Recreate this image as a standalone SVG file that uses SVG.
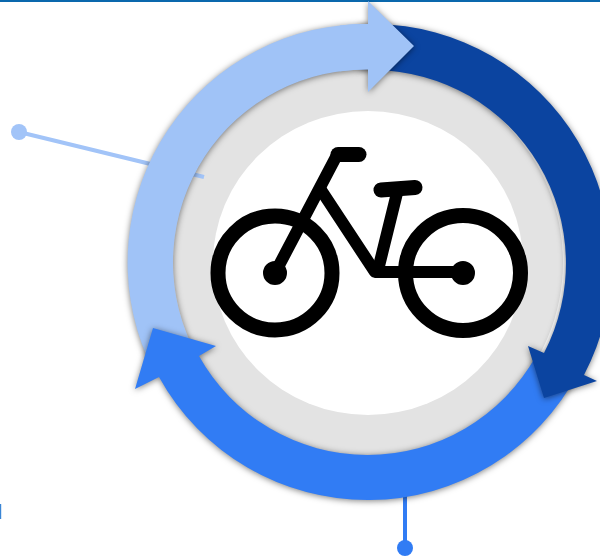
<svg xmlns="http://www.w3.org/2000/svg" width="600" height="560" viewBox="0 0 600 560">
<defs>
<filter id="sh" x="-15%" y="-15%" width="130%" height="130%" color-interpolation-filters="sRGB"><feDropShadow dx="0" dy="1" stdDeviation="3" flood-color="#000" flood-opacity=".5"/></filter>
<filter id="soft" x="-5%" y="-5%" width="110%" height="110%" color-interpolation-filters="sRGB"><feGaussianBlur stdDeviation=".7"/></filter>
</defs>
<style>
.bike{fill:none;stroke:#000;stroke-width:12;stroke-linecap:round;stroke-linejoin:round}
.bar{stroke-width:15}
.lt{fill:#a0c3f7}.md{fill:#317cf4}.dk{fill:#0b44a0}
</style>
<rect width="600" height="560" fill="#fff"/>
<rect id="top-bar" width="600" height="2" fill="#0a68ad"/>
<rect id="edge-mark" x="0" y="504" width="1.2" height="15" fill="#3a85d5"/>
<g id="disc">
<circle cx="368" cy="262" r="195" fill="#e3e3e3"/>
<ellipse cx="368" cy="263" rx="155" ry="152" fill="#fff"/>
</g>
<g id="connectors">
<line x1="19" y1="132" x2="204" y2="177" stroke="#a2c4f8" stroke-width="4"/>
<circle cx="19" cy="132" r="8" fill="#a2c4f8"/>
<line x1="405" y1="495" x2="405" y2="548" stroke="#317cf4" stroke-width="4"/>
<circle cx="405" cy="548" r="8" fill="#317cf4"/>
</g>
<g id="arrow-light-body" filter="url(#sh)">
<path class="lt" d="M372 24.100A238.500 238.500 0 0 0 147.500 358L191.500 345A193 193 0 0 1 372 69.600Z"/>
</g>
<g id="arrow-blue" filter="url(#sh)">
<path class="md" d="M578 373A238 238 0 0 1 159 377L135 389L153 328L216 346L199 356A193 193 0 0 0 536 356.100Z"/>
</g>
<g id="arrow-dark" filter="url(#sh)">
<path class="dk" d="M375 24A239.500 239.500 0 0 1 584 375L597 381L544 398L528 346L544 353A193.500 193.500 0 0 0 375 70Z"/>
</g>
<g id="arrow-light-head" filter="url(#sh)">
<path class="lt" d="M360 24H368V1L414 46L368 92V69H360Z"/>
</g>
<path id="arrow-light-join" class="lt" d="M340 25.400A238.500 238.500 0 0 1 372 24.100V69.600A193 193 0 0 0 340 71.300Z"/>
<g id="bicycle" class="bike" filter="url(#soft)">
<circle class="bar" cx="275" cy="273" r="57"/>
<circle class="bar" cx="463" cy="273" r="57.500"/>
<path d="M337 155L275 273"/>
<path d="M321 190L375 272H463"/>
<path d="M398 189L378 270"/>
<path class="bar" d="M338 154.500H359"/>
<path class="bar" d="M381 190L415 187.500"/>
<circle cx="275" cy="273" r="6" fill="#000"/>
<circle cx="463" cy="273" r="6" fill="#000"/>
</g>
</svg>
